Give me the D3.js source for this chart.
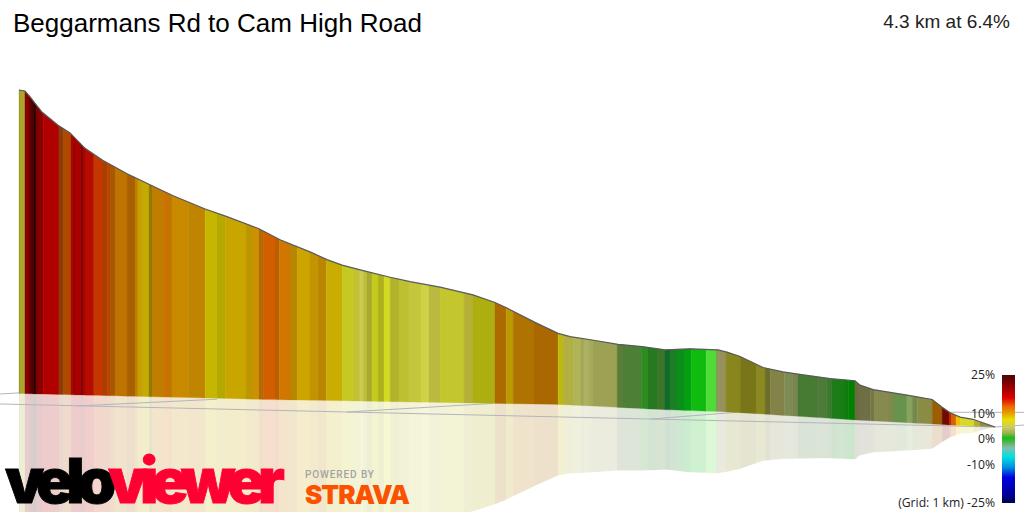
<!DOCTYPE html>
<html>
<head>
<meta charset="utf-8">
<script src="https://cdn.jsdelivr.net/npm/d3@7/dist/d3.min.js"></script>
<style>
html,body{margin:0;padding:0;background:#fff;overflow:hidden}
svg{display:block}
text{font-family:"Liberation Sans",Arial,sans-serif}
</style>
</head>
<body>
<svg id="chart" width="1024" height="512"></svg>
<script>
// Route summary
const title = "Beggarmans Rd to Cam High Road";
const summary = "4.3 km at 6.4%";
const gridNote = "(Grid: 1 km) ";

// Elevation outline: distance (m) and height (m)
const profileDist = [0,26,48,70,101,172,225,291,370,476,577,679,820,916,1057,1150,1282,1357,1423,1516,1635,1723,1855,2000,2097,2150,2273,2375,2428,2525,2639,2745,2846,2956,3080,3119,3177,3278,3366,3432,3573,3683,3705,3763,3912,4023,4067,4102,4146,4203,4300];
const profileElev = [306,305,300,294,286,274,267,253,242,230,220,210,198,191,180,170,159,152,147,142,136,132,127,120,113,108,95,85,82,79,75,73,70,71,70,68,64,54,50,48,44,42,38,34,29,25,18,13,9,7,0];

// Ground under the route, which rises and falls with the view of the terrain
const groundDist = [0,1062,2119,2384,2824,3133,3683,4014,4300];
const groundElev = [30.4,25.1,21.3,20.4,15.9,13.6,6.4,2.7,0];

// Gradient bands: boundaries (m) and one colour per band
const bandEdges = [0,4,26,44,53,66,75,88,106,176,194,229,238,251,269,286,295,330,370,388,401,423,476,511,524,546,573,586,639,652,674,745,820,872,908,1000,1031,1057,1079,1128,1146,1194,1225,1282,1317,1353,1423,1476,1502,1516,1533,1555,1582,1608,1635,1674,1718,1771,1806,1855,1961,2000,2097,2146,2177,2269,2375,2397,2441,2476,2489,2503,2525,2635,2661,2741,2771,2811,2846,2868,2899,2934,2961,3027,3071,3080,3115,3177,3247,3287,3309,3371,3406,3432,3516,3556,3578,3604,3639,3653,3683,3705,3750,3767,3833,3855,3912,3935,3957,4023,4067,4098,4106,4128,4146,4208,4234,4300];
const bandColours = ["#8f8f1c","#a9a82a","#8a0000","#6a0000","#4c0000","#2e0000","#7a0000","#8a0000","#b00000","#8a3d0b","#ad4a00","#b50000","#980000","#aa0000","#8d0000","#b00000","#b50c00","#c43700","#a84000","#bf4000","#a85800","#bf7300","#a86000","#bd7f00","#c4a000","#c5aa00","#8e7a00","#c07d00","#d07000","#c27500","#c98a00","#c08500","#c7b600","#b5a900","#c9a500","#bd9700","#cc9000","#b56a00","#d35e00","#bb5e00","#cf7700","#b98500","#cba400","#c39300","#ba8500","#c9ad00","#c6c922","#c4c136","#cfcd4f","#bdbf3a","#a9a82f","#c5cb1a","#aeb11b","#d4da24","#b4b22a","#bdc031","#c5c63d","#cfd146","#bcb940","#c4c62d","#b3b033","#afae10","#ac6a00","#bb9900","#ae7300","#a96800","#bfb90a","#b3b043","#b0b457","#a3a657","#acb165","#a8ab5c","#9da154","#5a7d3a","#4e7f37","#2d8b20","#26791e","#3b7527","#0f6a2b","#1d7f25","#0b8f1b","#00a010","#10bb10","#4fdb37","#79a050","#96905a","#8a861e","#787618","#8b8a22","#6d6d2a","#828348","#7e8c54","#7a8450","#477a33","#4e7a3a","#3d7a2f","#1f7a1a","#1a7d14","#0d7d0d","#008000","#6e6a40","#6f6e44","#757548","#868a4e","#7d8a4d","#68934d","#89a35f","#738a4a","#8a8c45","#9a5f00","#730800","#b21a00","#d46200","#eebf00","#d9d82a","#b0b030","#8d8d45"];

// Floor grid lines as [distance, height] pairs
const gridStart = [[-84,30],[-84,20.9],[256,19.1],[1445,13.6],[2785,7.3],[3177,13.6],[4300,0]];
const gridEnd = [[13,31.1],[4300,0],[872,25.2],[2088,21.4],[3177,13.6],[4428,13.3],[4428,1.8]];

// Gradient legend
const legendTicks = [25,10,0,-10,-25];
const legendGradient = [25,21,16,12.7,10,7.5,4.4,2.4,0.4,-1.5,-3.5,-7,-11,-15,-21,-25];
const legendColours = ["#4a0505","#8b0000","#e00000","#e86a00","#e8a000","#e8e000","#c9c96a","#a0b050","#10c010","#60b060","#80c0b0","#00e0e0","#0090e0","#0000e0","#0000a0","#000050"];

const svg = d3.select("#chart");
const x = d3.scaleLinear().domain([0,4300]).range([19,995]);
const y = d3.scaleLinear().domain([0,306]).range([427,90]);
const topAt = d3.scaleLinear().domain(profileDist).range(profileElev);
const groundAt = d3.scaleLinear().domain(groundDist).range(groundElev);

// Vertices of one band, following the outline between its two edges
function stations(a, b) {
  return [a, ...profileDist.filter(d => d > a && d < b), b];
}
function bandPath(a, b, mirrored) {
  const s = stations(a, b);
  const upper = s.map(d => {
    const g = y(groundAt(d)), t = y(topAt(d));
    return [x(d), mirrored ? g + (g - t) : t];
  });
  const lower = s.slice().reverse().map(d => [x(d), y(groundAt(d))]);
  return d3.line()(upper.concat(lower)) + "Z";
}
const bands = bandColours.map((c, i) => ({c, a: bandEdges[i], b: bandEdges[i + 1]}));

// Reflection on the floor
svg.append("g").selectAll("path").data(bands).join("path")
  .attr("d", d => bandPath(d.a, d.b, true))
  .attr("fill", d => d.c)
  .attr("fill-opacity", 0.2);

// Floor grid
svg.append("g").selectAll("line").data(gridStart).join("line")
  .attr("x1", d => x(d[0])).attr("y1", d => y(d[1]))
  .attr("x2", (d, i) => x(gridEnd[i][0])).attr("y2", (d, i) => y(gridEnd[i][1]))
  .attr("stroke", "#b4b4bc").attr("stroke-width", 1);

// Coloured wall of the profile
svg.append("g").selectAll("path").data(bands).join("path")
  .attr("d", d => bandPath(d.a, d.b, false))
  .attr("fill", d => d.c)
  .attr("stroke", d => d.c)
  .attr("stroke-width", 0.25);

// Top edge
svg.append("path")
  .attr("d", d3.line().x(d => x(d)).y(d => y(topAt(d)))(profileDist))
  .attr("fill", "none").attr("stroke", "#5a5a5a").attr("stroke-width", 1.2);

// Headings
svg.append("text").attr("x", 13).attr("y", 32)
  .attr("font-size", 26).attr("fill", "#000").text(title);
svg.append("text").attr("x", 1010).attr("y", 28).attr("text-anchor", "end")
  .attr("font-size", 19).attr("fill", "#222").text(summary);

// Gradient legend
const legendY = d3.scaleLinear().domain([-25,25]).range([503,375]);
const defs = svg.append("defs");
const lg = defs.append("linearGradient").attr("id", "gradeRamp")
  .attr("x1", 0).attr("y1", 0).attr("x2", 0).attr("y2", 1);
lg.selectAll("stop").data(legendGradient).join("stop")
  .attr("offset", d => (legendY(d) - 375) / 128)
  .attr("stop-color", (d, i) => legendColours[i]);
svg.append("rect").attr("x", 1002).attr("y", legendY(25))
  .attr("width", 13).attr("height", legendY(-25) - legendY(25))
  .attr("fill", "url(#gradeRamp)");
svg.append("g").selectAll("text").data(legendTicks).join("text")
  .attr("x", 995).attr("y", d => legendY(d)).attr("dy", "0.36em")
  .attr("text-anchor", "end")
  .style("font-family", '"Open Sans"').style("font-size", "12.2px").attr("fill", "#222")
  .text(d => (d === -25 ? gridNote : "") + d + "%");

// Brand marks
svg.append("text").attr("x", 5).attr("y", 503)
  .style("font-family", '"Inter"').style("font-weight", 900).style("font-size", "62px")
  .style("letter-spacing", "-7.2px")
  .attr("fill", "#000").attr("stroke", "#000").attr("stroke-width", 0.8).text("velo");
svg.append("text").attr("x", 108).attr("y", 503)
  .style("font-family", '"Inter"').style("font-weight", 900).style("font-size", "62px")
  .style("letter-spacing", "-7.2px")
  .attr("fill", "#ff0033").attr("stroke", "#ff0033").attr("stroke-width", 0.8).text("viewer");
svg.append("text").attr("x", 305).attr("y", 478)
  .style("font-family", '"Roboto"').style("font-weight", 500).style("font-size", "10px")
  .style("letter-spacing", "0.9px")
  .attr("fill", "#a3a3a3").text("POWERED BY");
svg.append("text").attr("x", 305).attr("y", 504)
  .style("font-family", '"Inter"').style("font-weight", 900).style("font-size", "26px")
  .style("letter-spacing", "-1px")
  .attr("fill", "#fc5200").text("STRAVA");
</script>
</body>
</html>
